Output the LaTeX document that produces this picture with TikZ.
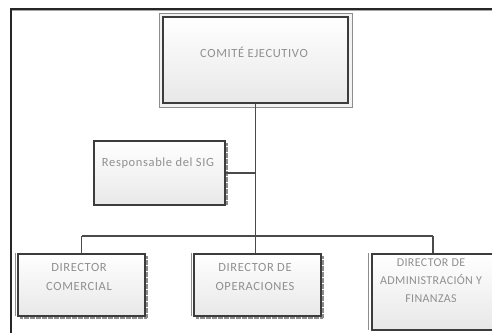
\documentclass[tikz,border=0pt]{standalone}
\usepackage{fontspec}
\setmainfont{Carlito}
\definecolor{edge}{HTML}{3C3C3C}
\definecolor{rim}{HTML}{8C8C8C}
\definecolor{ink}{HTML}{909090}
\definecolor{wire}{HTML}{4A4A4A}
\begin{document}
\begin{tikzpicture}[x=1pt,y=-1pt,
  boxfill/.style={top color=white,bottom color=black!9},
  card/.style={boxfill,draw=edge,line width=2pt},
  plain/.style={boxfill,draw=edge,line width=1.2pt},
  shade/.style={draw=black!45,line width=1.2pt,dash pattern=on 0.6pt off 0.6pt},
  lbl/.style={font=\fontsize{12.5}{18.5}\selectfont\addfontfeatures{LetterSpace=5},
    text=ink,align=center,inner sep=0pt},
  wirestyle/.style={draw=wire,line width=1.1pt}]
\useasboundingbox (0,0) rectangle (492,333);
\clip (0,0) rectangle (492,333);
\fill[white] (0,0) rectangle (492,333);

% page frame
\draw[line width=2pt,black!85] (11,333) -- (11,9) -- (492,9);
\draw[line width=0.8pt,black!35] (12,10.8) -- (492,10.8);

% executive committee (double border)
\draw[rim,line width=1pt,fill=black!5] (159,13) rectangle (352,107);
\node[plain,minimum width=185pt,minimum height=86pt,inner sep=0pt] (top) at (255.5,60) {};
\node[lbl] (toplbl) at (254,52) {COMITÉ EJECUTIVO};

% SIG officer
\draw[shade] (227,143) -- (227,205);
\node[plain,minimum width=131pt,minimum height=64pt,inner sep=0pt] (sig) at (159.5,173) {};
\node[lbl] (siglbl) at (158,163) {Responsable del SIG};

% directors
\draw[shade] (147,256) -- (147,318) -- (20,318);
\draw[rim,line width=1pt] (15,253) -- (15,316);
\node[card,minimum width=127pt,minimum height=62pt,inner sep=0pt] (com) at (81.5,284.5) {};
\node[lbl] (comlbl) at (79,277) {DIRECTOR\\COMERCIAL};

\draw[shade] (323,256) -- (323,318) -- (196,318);
\draw[rim,line width=1pt] (191,253) -- (191,316);
\node[card,minimum width=127pt,minimum height=62pt,inner sep=0pt] (ope) at (257.5,284.5) {};
\node[lbl] (opelbl) at (255,277) {DIRECTOR DE\\OPERACIONES};

\draw[rim,line width=1pt] (368,253) -- (368,330);
\node[card,minimum width=130pt,minimum height=76pt,inner sep=0pt] (adm) at (437,291.5) {};
\node[lbl,font=\fontsize{12}{18}\selectfont\addfontfeatures{LetterSpace=3}] (admlbl) at (431,281) {DIRECTOR DE\\ADMINISTRACIÓN Y\\FINANZAS};

% connectors
\coordinate (hub) at (top.south |- 0,236);
\coordinate (busL) at (com.north |- hub);
\coordinate (busR) at (433,236);
\draw[wirestyle] (top.south) -- (hub);
\draw[wirestyle] (sig.east) -- (sig.east -| top.south);
\draw[wirestyle] (busL) -- (busR);
\draw[wirestyle] (busL) -- (busL |- com.north);
\draw[wirestyle] (hub) -- (hub |- ope.north);
\draw[wirestyle] (busR) -- (busR |- adm.north);
\end{tikzpicture}
\end{document}
